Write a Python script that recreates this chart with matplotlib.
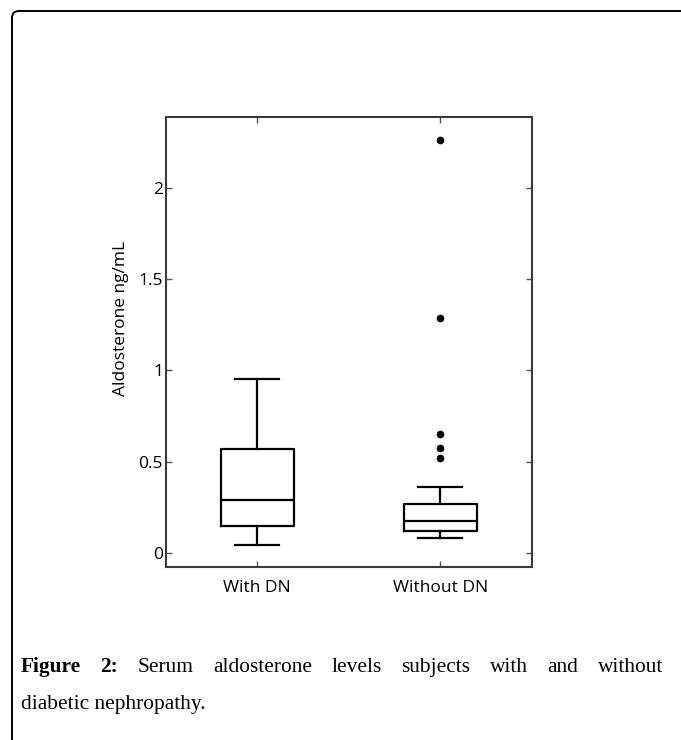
import matplotlib
matplotlib.use("Agg")
import matplotlib.pyplot as plt
from matplotlib.patches import FancyBboxPatch
from matplotlib.transforms import IdentityTransform

# ---- data ----
categories = ["With DN", "Without DN"]
q1 = [0.146, 0.119]
median = [0.289, 0.172]
q3 = [0.569, 0.269]
whisker_low = [0.044, 0.079]
whisker_high = [0.951, 0.359]
outliers = [[], [2.264, 1.289, 0.653, 0.573, 0.521]]
yticks = [0, 0.5, 1, 1.5, 2]
ytick_labels = ["0", "0.5", "1", "1.5", "2"]
ylabel = "Aldosterone ng/mL"
caption_bold = "Figure 2:"
caption_line1 = "Serum aldosterone levels subjects with and without"
caption_line2 = "diabetic nephropathy."

W, H = 681, 740
fig = plt.figure(figsize=(W / 100, H / 100), dpi=100)
fig.patch.set_facecolor("white")

ax = fig.add_axes([165.7 / W, 1 - 567.3 / H, (532 - 165.7) / W, (567.3 - 116.7) / H])

stats = []
for i, c in enumerate(categories):
    stats.append(dict(label=c, q1=q1[i], med=median[i], q3=q3[i],
                      whislo=whisker_low[i], whishi=whisker_high[i],
                      fliers=outliers[i]))

lp = dict(color="black", linewidth=1.6)
ax.bxp(stats, positions=[1, 2], widths=0.40, showfliers=True,
       boxprops=lp, medianprops=lp, whiskerprops=lp,
       capprops=lp, capwidths=0.24,
       flierprops=dict(marker="o", markerfacecolor="black",
                       markeredgecolor="black", markersize=4.5, linestyle="none"))

ax.set_xlim(0.5, 2.5)
ax.set_ylim(-0.08, 2.392)
ax.set_yticks(yticks)
ax.set_yticklabels(ytick_labels)
ax.set_xticks([1, 2])
ax.set_xticklabels(categories)

sans = ["Open Sans", "DejaVu Sans"]
for lab in ax.get_xticklabels() + ax.get_yticklabels():
    lab.set_fontfamily(sans)
    lab.set_fontsize(12.5)
ax.tick_params(direction="in", length=4, width=1, color="#555555",
               top=True, right=True, labelcolor="black")
ax.tick_params(axis="x", pad=9.5)
ax.tick_params(axis="y", pad=2)
for s in ax.spines.values():
    s.set_color("#3a3a3a")
    s.set_linewidth(1.5)
ax.set_ylabel(ylabel, fontsize=12.5, family=sans)
ax.yaxis.set_label_coords(-0.10, 0.552)

# ---- outer frame (open at right/bottom, rounded top-left corner) ----
frame = FancyBboxPatch((12, -40), 760, H - 11 + 40, boxstyle="round,pad=0,rounding_size=7",
                       transform=IdentityTransform(), fill=False, edgecolor="black",
                       linewidth=1.4)
fig.add_artist(frame)

# ---- caption, justified first line ----
fig.canvas.draw()
renderer = fig.canvas.get_renderer()
serif = ["Liberation Serif", "DejaVu Serif"]
fs = 15.4
x_left, x_right = 21, 663
y1 = 672
y2 = 709

words = [(w, "bold") for w in caption_bold.split(" ")] + \
        [(w, "normal") for w in caption_line1.split(" ")]
texts = []
total = 0
for w, wt in words:
    t = fig.text(0, 0, w, fontsize=fs, family=serif, fontweight=wt,
                 transform=IdentityTransform(), va="baseline", ha="left")
    bb = t.get_window_extent(renderer)
    texts.append((t, bb.width))
    total += bb.width
gap = (x_right - x_left - total) / (len(words) - 1)
x = x_left
for t, wd in texts:
    t.set_position((x, H - y1))
    x += wd + gap

fig.text(x_left, H - y2, caption_line2, fontsize=fs, family=serif,
         transform=IdentityTransform(), va="baseline", ha="left")

fig.savefig("out.png", dpi=100)
